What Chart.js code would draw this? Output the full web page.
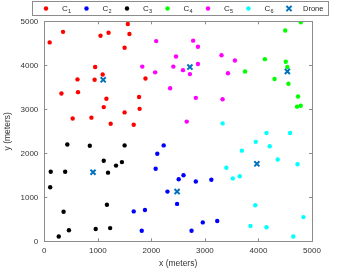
<!DOCTYPE html>
<html><head><meta charset="utf-8">
<script src="https://cdn.jsdelivr.net/npm/chart.js@4.4.1/dist/chart.umd.min.js"></script>
<style>html,body{margin:0;padding:0;background:#fff}#wrap{width:345px;height:273px}</style>
</head><body><div id="wrap"><canvas id="c" width="345" height="273"></canvas></div>
<script>
const seriesNames = ['C\u2081','C\u2082','C\u2083','C\u2084','C\u2085','C\u2086','Drone'];
const seriesColors = ['#ff0000','#0000ff','#000000','#00ff00','#ff00ff','#00ffff','#0072bd'];
const xTicks = [0,1000,2000,3000,4000,5000];
const yTicks = [0,1000,2000,3000,4000,5000];

const c1 = [[1560,4940],[350,4760],[1200,4740],[1050,4670],[1590,4710],[100,4520],[1500,4400],[950,3960],[1090,3790],[620,3680],[940,3670],[320,3360],[630,3390],[1160,3240],[1110,3050],[1500,2930],[530,2790],[880,2810],[1240,2670],[1670,2650],[1890,3700],[1770,3280],[1780,3010]];
const c2 = [[2230,2180],[2110,1990],[2080,1650],[2600,1500],[2510,1410],[2830,1360],[3120,1400],[2300,1130],[2480,850],[1670,680],[1880,710],[1820,240],[2750,240],[2960,430],[3230,460]];
const c3 = [[430,2200],[850,2170],[1500,2180],[1110,1830],[1450,1800],[1340,1720],[120,1580],[390,1580],[1190,1560],[110,1230],[360,670],[1170,830],[460,250],[960,280],[1230,300],[270,110]];
const c4 = [[4790,4980],[4500,4790],[4120,4140],[4510,4080],[4540,3960],[3750,3860],[4300,3690],[4560,3580],[4740,3290],[4720,3060],[4790,3080]];
const c5 = [[2090,4550],[2780,4560],[2870,4420],[2460,4200],[3310,4230],[1830,3970],[2410,3970],[2870,4030],[2590,3890],[2720,3800],[2070,3840],[2350,3480],[2830,3260],[2660,2720],[3560,4110],[3430,3820],[3330,3230]];
const c6 = [[4150,2460],[4590,2460],[3950,2260],[4210,2160],[3690,2060],[4360,1860],[4730,1750],[3400,1670],[3520,1430],[3650,1480],[3940,820],[4840,550],[3850,350],[4150,320],[4650,110],[3330,2680]];
const drones = [[1100,3670],[2720,3960],[4540,3860],[910,1570],[2480,1130],[3970,1760]];

const groups = [c1,c2,c3,c4,c5,c6,drones];
const FONT = '"Liberation Sans", Arial, sans-serif';
const AXIS = '#8c8c8c';

const datasets = groups.map((g,i)=>{
  const isDrone = i === 6;
  return {
    label: seriesNames[i],
    data: g.map(p=>({x:p[0], y:p[1]})),
    backgroundColor: seriesColors[i],
    borderColor: seriesColors[i],
    pointStyle: isDrone ? 'crossRot' : 'circle',
    pointRadius: isDrone ? 3.6 : 2.2,
    borderWidth: isDrone ? 2 : 0,
    order: isDrone ? 0 : 1,
    showLine: false
  };
});

const frame = {
  id: 'frame',
  afterDraw(chart){
    const ctx = chart.ctx, a = chart.chartArea;
    const xs = chart.scales.x, ys = chart.scales.y;
    ctx.save();
    ctx.strokeStyle = AXIS; ctx.lineWidth = 1;
    ctx.strokeRect(Math.round(a.left)+0.5, Math.round(a.top)+0.5, Math.round(a.right-a.left), Math.round(a.bottom-a.top));
    ctx.beginPath();
    xTicks.forEach(v=>{
      const px = Math.round(xs.getPixelForValue(v))+0.5;
      ctx.moveTo(px, a.bottom); ctx.lineTo(px, a.bottom-3);
      ctx.moveTo(px, a.top); ctx.lineTo(px, a.top+3);
    });
    yTicks.forEach(v=>{
      const py = Math.round(ys.getPixelForValue(v))+0.5;
      ctx.moveTo(a.left, py); ctx.lineTo(a.left+3, py);
      ctx.moveTo(a.right, py); ctx.lineTo(a.right-3, py);
    });
    ctx.stroke();
    // legend
    const lx = 32.5, ly = 1.5, lw = 296, lh = 14;
    ctx.fillStyle = '#fff';
    ctx.fillRect(lx, ly, lw, lh);
    ctx.strokeStyle = AXIS;
    ctx.strokeRect(lx, ly, lw, lh);
    const cy = 8.5;
    chart.data.datasets.forEach((ds,i)=>{
      const dx = 46 + i*40.5;
      ctx.fillStyle = ds.backgroundColor;
      ctx.strokeStyle = ds.borderColor;
      if (ds.pointStyle === 'circle') {
        ctx.beginPath(); ctx.arc(dx, cy, 2.2, 0, Math.PI*2); ctx.fill();
      } else {
        ctx.lineWidth = 2;
        ctx.beginPath();
        const r = 2.6;
        ctx.moveTo(dx-r, cy-r); ctx.lineTo(dx+r, cy+r);
        ctx.moveTo(dx+r, cy-r); ctx.lineTo(dx-r, cy+r);
        ctx.stroke();
      }
      ctx.fillStyle = '#262626';
      ctx.textBaseline = 'middle';
      ctx.textAlign = 'left';
      const lbl = ds.label;
      if (lbl.length === 2 && lbl[0] === 'C') {
        ctx.font = '8px ' + FONT;
        ctx.fillText('C', dx+16, cy);
        const w = ctx.measureText('C').width;
        ctx.font = '5.5px ' + FONT;
        ctx.fillText(String(lbl.charCodeAt(1)-0x2080), dx+16+w+0.3, cy+3);
      } else {
        ctx.font = '7.5px ' + FONT;
        ctx.fillText(lbl, dx+14, cy);
      }
    });
    ctx.restore();
  }
};

new Chart(document.getElementById('c'), {
  type: 'scatter',
  data: { datasets },
  options: {
    responsive: false,
    animation: false,
    devicePixelRatio: 1,
    layout: { padding: { left: 0, top: 21.3, right: 33, bottom: 0 } },
    plugins: { legend: { display: false }, title: { display: false }, tooltip: { enabled: false } },
    scales: {
      x: {
        type: 'linear', min: 0, max: 5000,
        afterBuildTicks: s => { s.ticks = xTicks.map(v=>({value:v})); },
        afterFit: s => { s.height = 31.7; },
        grid: { display: false, drawTicks: false },
        border: { display: false },
        ticks: { padding: 5, color: '#333', font: { family: FONT, size: 8 }, maxRotation: 0, callback: v => String(v) },
        title: { display: true, text: 'x (meters)', color: '#333', font: { family: FONT, size: 8.5 }, padding: { top: 0, bottom: 4 } }
      },
      y: {
        type: 'linear', min: 0, max: 5000,
        afterBuildTicks: s => { s.ticks = yTicks.map(v=>({value:v})); },
        afterFit: s => { s.width = 44.3; },
        grid: { display: false, drawTicks: false },
        border: { display: false },
        ticks: { padding: 6, color: '#333', font: { family: FONT, size: 8 }, callback: v => String(v) },
        title: { display: true, text: 'y (meters)', color: '#333', font: { family: FONT, size: 8.5 }, padding: { top: 3, bottom: 0 } }
      }
    }
  },
  plugins: [frame]
});
</script>
</body></html>
